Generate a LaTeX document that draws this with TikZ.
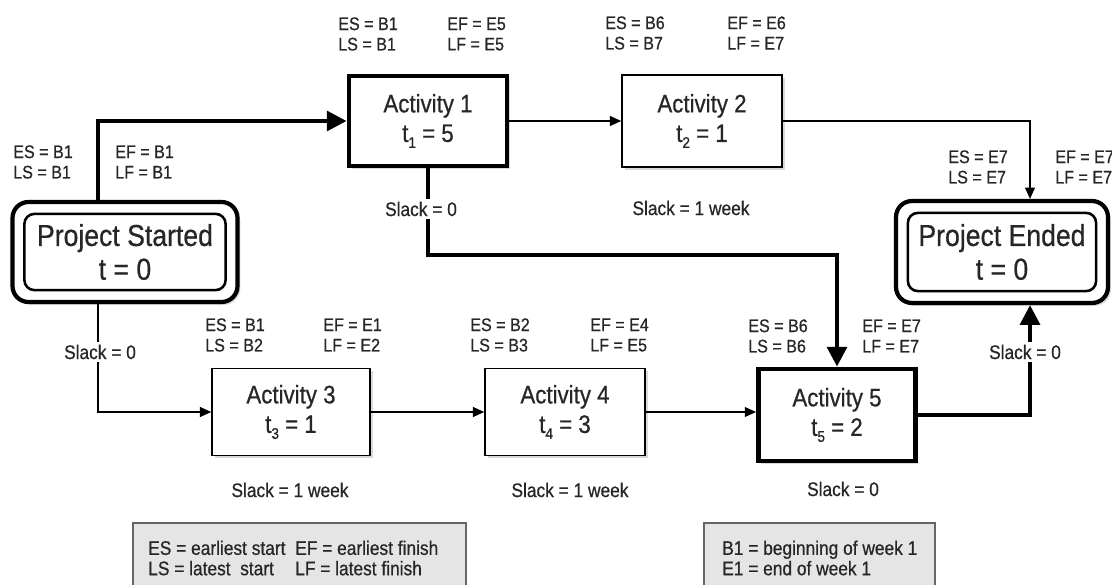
\documentclass[tikz,border=0pt]{standalone}
\usepackage{fontspec}
\setmainfont{Liberation Sans}[FakeStretch=0.88,FakeBold=0.6]
\usetikzlibrary{arrows.meta,shadows,calc}
\newdimen\px \px=0.025cm
\newcommand\sbs[1]{\raisebox{-0.45ex}{\fontsize{11}{11}\selectfont #1}}
\definecolor{txt}{HTML}{262626}
\begin{document}
\begin{tikzpicture}[x=0.025cm,y=-0.025cm,
  lab/.style={font=\fontsize{13}{14.5}\selectfont, text=txt, align=left, anchor=west, inner sep=0pt},
  slack/.style={font=\fontsize{14}{15}\selectfont, text=txt, fill=white, inner sep=2pt},
  actbox/.style={draw, line width=1.1pt, fill=white, font=\fontsize{18}{21}\selectfont, text=txt, align=center,
     drop shadow={shadow xshift=2pt, shadow yshift=-2pt, opacity=0.3}},
  critbox/.style={actbox, line width=3.5pt},
  projbox/.style={draw, line width=3pt, rounded corners=16\px, fill=white, font=\fontsize{21.5}{24}\selectfont, text=txt, align=center,
     drop shadow={shadow xshift=2pt, shadow yshift=-2pt, opacity=0.3}},
  thin/.style={line width=1pt, -{Triangle[length=8pt,width=7pt]}},
  thick/.style={line width=2.8pt, -{Triangle[length=14pt,width=14pt]}},
  legend/.style={draw=black!60, line width=1pt, fill=black!10},
  legtxt/.style={font=\fontsize{14}{14.5}\selectfont, text=txt, align=left, anchor=west, inner sep=0pt}
]
\useasboundingbox (0,0) rectangle (1112,585);

% nodes
\node[projbox, minimum width={225*\px}, minimum height={100*\px}] (ps) at (125,252) {Project Started\\t = 0};
\draw[line width=1.8pt, rounded corners=10\px] ($(ps.north west)+(14,14)$) rectangle ($(ps.south east)+(-14,-14)$);
\node[projbox, minimum width={212*\px}, minimum height={102*\px}] (pe) at (1002,252) {Project Ended\\t = 0};
\draw[line width=1.8pt, rounded corners=10\px] ($(pe.north west)+(14,14)$) rectangle ($(pe.south east)+(-14,-14)$);

\node[critbox, minimum width={158*\px}, minimum height={90*\px}] (a1) at (428,121) {Activity 1\\t\sbs{1} = 5};
\node[actbox, minimum width={160*\px}, minimum height={92*\px}] (a2) at (702,121) {Activity 2\\t\sbs{2} = 1};
\node[actbox, minimum width={158*\px}, minimum height={87*\px}] (a3) at (291,412) {Activity 3\\t\sbs{3} = 1};
\node[actbox, minimum width={160*\px}, minimum height={87*\px}] (a4) at (565,412) {Activity 4\\t\sbs{4} = 3};
\node[critbox, minimum width={157*\px}, minimum height={92*\px}] (a5) at (837,415) {Activity 5\\t\sbs{5} = 2};

% helper coordinates
\coordinate (c1) at (98,0);
\coordinate (c2) at (1030,0);
\coordinate (c3) at (0,255);

% connectors
\draw[thick] (ps.north -| c1) |- (a1.west);
\draw[thin] (a1.east) -- (a2.west);
\draw[thin] (a2.east) -| (pe.north -| c2);
\draw[thick] (a1.south) -- (a1.south |- c3) -| (a5.north);
\draw[thin] (ps.south -| c1) |- (a3.west);
\draw[thin] (a3.east) -- (a4.west);
\draw[thin] (a4.east) -- (a4.east -| a5.west);
\draw[thick] (a5.east) -| (pe.south -| c2);

% slack labels
\node[slack] (s1) at (421,209) {Slack = 0};
\node[slack] (s2) at (691,208) {Slack = 1 week};
\node[slack] (s0) at (100,352) {Slack = 0};
\node[slack] (s3) at (290,490) {Slack = 1 week};
\node[slack] (s4) at (570,490) {Slack = 1 week};
\node[slack] (s5) at (843,489) {Slack = 0};
\node[slack] (s6) at (1025,352) {Slack = 0};

% ES/LS EF/LF labels
\node[lab] (l0a) at (13,162) {ES = B1\\LS = B1};
\node[lab] (l0b) at (115,162) {EF = B1\\LF = B1};
\node[lab] (l1a) at (338,34) {ES = B1\\LS = B1};
\node[lab] (l1b) at (447,34) {EF = E5\\LF = E5};
\node[lab] (l2a) at (605,33) {ES = B6\\LS = B7};
\node[lab] (l2b) at (727,33) {EF = E6\\LF = E7};
\node[lab] (l6a) at (948,167) {ES = E7\\LS = E7};
\node[lab] (l6b) at (1055,167) {EF = E7\\LF = E7};
\node[lab] (l3a) at (205,335) {ES = B1\\LS = B2};
\node[lab] (l3b) at (323,335) {EF = E1\\LF = E2};
\node[lab] (l4a) at (470,335) {ES = B2\\LS = B3};
\node[lab] (l4b) at (590,335) {EF = E4\\LF = E5};
\node[lab] (l5a) at (748,336) {ES = B6\\LS = B6};
\node[lab] (l5b) at (862,336) {EF = E7\\LF = E7};

% legends
\draw[legend] (133,592) -- (133,523) -- (466,523) -- (466,592);
\node[legtxt] (g1) at (148,558) {ES = earliest start\\LS = latest\ \ start};
\node[legtxt] (g2) at (295,558) {EF = earliest finish\\LF = latest finish};
\draw[legend] (704,592) -- (704,523) -- (935,523) -- (935,592);
\node[legtxt] (g3) at (722,558) {B1 = beginning of week 1\\E1 = end of week 1};
\end{tikzpicture}
\end{document}
